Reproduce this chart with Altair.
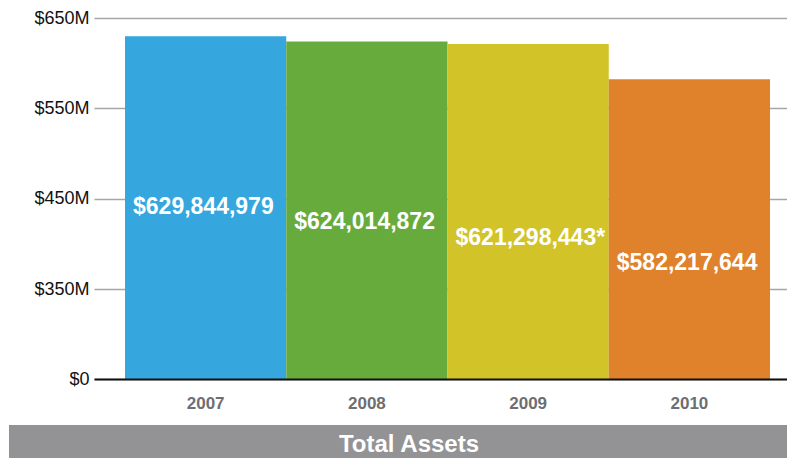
import altair as alt
import pandas as pd

# ---- data ----
years = ["2007", "2008", "2009", "2010"]
assets_musd = [629.844979, 624.014872, 621.298443, 582.217644]
asset_labels = ["$629,844,979", "$624,014,872", "$621,298,443*", "$582,217,644"]
y_ticks = [0, 350, 450, 550, 650]
banner_text = ["Total Assets"]

# ---- styling / layout ----
bar_colors = ["#36a7de", "#68ab3d", "#d2c328", "#df822b"]
label_anchor_musd = [441, 424, 406.5, 379]  # where each white label sits (staircase)
W, H = 693, 361
PAD_L, PAD_T = 86, 10
CANVAS_H = 450

df = pd.DataFrame({
    "year": years,
    "assets": assets_musd,
    "label": asset_labels,
    "anchor": label_anchor_musd,
})

yscale = alt.Scale(domain=[0, 350, 650], range=[H, H - 90, 0], nice=False, zero=False)
xscale = alt.Scale(paddingInner=0, paddingOuter=0.1488, align=0.646)

bars = alt.Chart(df).mark_bar(strokeWidth=0).encode(
    x=alt.X("year:N", sort=years, scale=xscale,
            axis=alt.Axis(title=None, labelAngle=0, ticks=False, labelPadding=16,
                          labelFontSize=17, labelFontWeight="bold", labelColor="#6d6e71",
                          domainColor="#111111", domainWidth=2, zindex=1)),
    y=alt.Y("assets:Q", scale=yscale,
            axis=alt.Axis(title=None, values=y_ticks, ticks=False, domain=False,
                          labelExpr="datum.value == 0 ? '$0' : '$' + datum.value + 'M'",
                          labelFontSize=18, labelPadding=5, labelColor="#111111",
                          gridColor="#a6a6a6", gridWidth=1.5)),
    y2=alt.datum(0),
    color=alt.Color("year:N", scale=alt.Scale(domain=years, range=bar_colors), legend=None),
)

labels = alt.Chart(df).mark_text(
    align="left", baseline="middle", dx=8, fontSize=23, fontWeight="bold", color="white"
).encode(
    x=alt.X("year:N", sort=years, bandPosition=0, title=None),
    y=alt.Y("anchor:Q", title=None),
    text="label:N",
)

banner_df = pd.DataFrame({"t": banner_text})
banner = alt.Chart(banner_df).mark_rect(color="#939396").encode(
    x=alt.value(-85), x2=alt.value(W + 5), y=alt.value(H + 46), y2=alt.value(CANVAS_H)
)
banner_label = alt.Chart(banner_df).mark_text(
    align="center", baseline="middle", fontSize=24, fontWeight="bold", color="white"
).encode(x=alt.value(315), y=alt.value(H + 66), text="t:N")

chart = alt.layer(bars, labels, banner, banner_label).properties(
    width=W, height=H,
    autosize=alt.AutoSizeParams(type="none"),
    padding={"left": PAD_L, "top": PAD_T, "right": 0, "bottom": CANVAS_H - PAD_T - H},
).configure(font="Liberation Sans").configure_view(stroke=None)

chart.save("out.html", embed_options={"renderer": "svg", "actions": False})
